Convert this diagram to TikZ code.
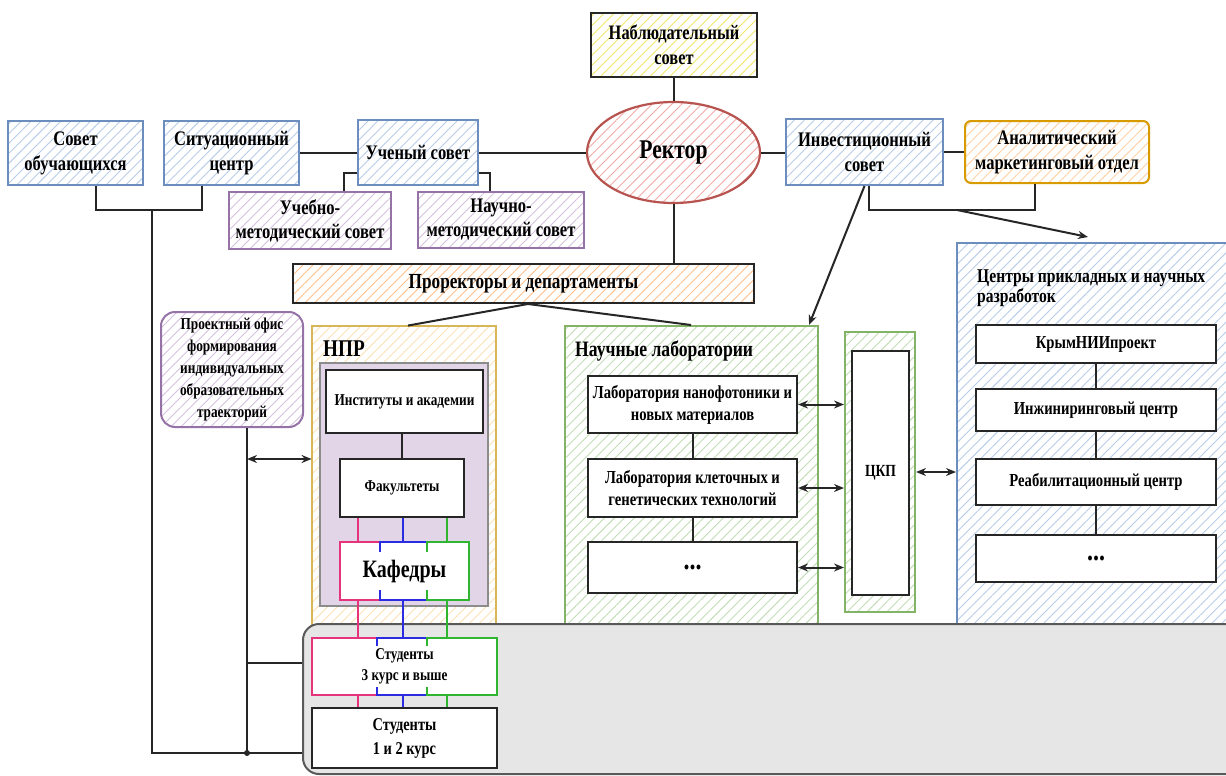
\documentclass[tikz,border=0pt]{standalone}
\usepackage{fontspec}
\setmainfont{Liberation Serif}[FakeStretch=0.8]
\usetikzlibrary{shapes.geometric,patterns.meta,arrows.meta,calc}
\definecolor{cblue}{HTML}{6C8EBF}
\definecolor{hblue}{HTML}{B9CDE9}
\definecolor{cpurp}{HTML}{9673A6}
\definecolor{hpurp}{HTML}{D5C2DF}
\definecolor{cred}{HTML}{B85450}
\definecolor{hred}{HTML}{F2AAA7}
\definecolor{hyell}{HTML}{F2E76A}
\definecolor{corng}{HTML}{D79B00}
\definecolor{horng}{HTML}{FFD2A8}
\definecolor{horng2}{HTML}{FFC08A}
\definecolor{cgreen}{HTML}{82B366}
\definecolor{hgreen}{HTML}{C4DDB8}
\definecolor{cnpr}{HTML}{D6B656}
\definecolor{hnpr}{HTML}{FDE2B8}
\definecolor{lav}{HTML}{E1D5E7}
\definecolor{greyfill}{HTML}{E6E6E6}
\definecolor{cpink}{HTML}{E6347C}
\definecolor{cbl}{HTML}{2B2BE0}
\definecolor{cgr}{HTML}{2FB52F}
\tikzset{
  box/.style={draw, line width=2pt, align=center, inner sep=1pt, font=\bfseries\fontsize{20.7}{25}\selectfont},
  hatch/.style={preaction={fill=white}, pattern={Lines[angle=45,distance=7pt,line width=0.9pt]}, pattern color=#1},
  bluebox/.style={box, draw=cblue, hatch=hblue},
  purpbox/.style={box, draw=cpurp, hatch=hpurp, font=\bfseries\fontsize{20.7}{24}\selectfont},
  wbox/.style={draw=black!85, line width=2pt, fill=white, align=center, inner sep=1pt},
  conn/.style={line width=2pt, draw=black!85},
  arr/.style={conn, -{Stealth[length=10pt,width=8pt]}},
  darr/.style={conn, {Stealth[length=10pt,width=8pt]}-{Stealth[length=10pt,width=8pt]}},
  colln/.style={line width=2pt, draw=#1},
}
\begin{document}
\begin{tikzpicture}[x=1pt,y=-1pt]
\useasboundingbox (0,0) rectangle (1226,776);
% big container boxes (bottoms hidden by grey area)
\node[draw=cnpr, line width=2pt, hatch=hnpr, minimum width=184pt, minimum height=324pt, inner sep=0pt] (npr) at (404,488) {};
\node[draw=cgreen, line width=2pt, hatch=hgreen, minimum width=253pt, minimum height=324pt, inner sep=0pt] (nl) at (691.5,488) {};
\node[draw=cblue, line width=2pt, hatch=hblue, minimum width=283pt, minimum height=407pt, inner sep=0pt] (cen) at (1098.5,446.5) {};
% grey area
\node[draw=black!65, line width=2pt, fill=greyfill, rounded corners=16pt, minimum width=957pt, minimum height=150pt, inner sep=0pt] (grey) at (781.5,699) {};
% top row
\node[box, draw=black!85, hatch=hyell, minimum width=166pt, minimum height=64pt, font=\bfseries\fontsize{20.5}{25}\selectfont] (nab) at (674,45) {Наблюдательный\\совет};
\node[ellipse, draw=cred, line width=2.2pt, hatch=hred, minimum width=173pt, minimum height=101pt, inner sep=0pt, font=\bfseries\fontsize{27}{32}\selectfont] (rek) at (673.5,152.5) {Ректор};
\node[bluebox, minimum width=157pt, minimum height=66pt] (inv) at (864.5,152) {Инвестиционный\\совет};
\node[box, draw=corng, hatch=horng, rounded corners=6pt, minimum width=184pt, minimum height=62pt] (anal) at (1057,152) {Аналитический\\маркетинговый отдел};
\node[bluebox, minimum width=135pt, minimum height=64pt] (sov) at (75.5,153) {Совет\\обучающихся};
\node[bluebox, minimum width=135pt, minimum height=64pt] (sit) at (231.5,153) {Ситуационный\\центр};
\node[bluebox, minimum width=120pt, minimum height=65pt] (uch) at (418,152.5) {Ученый совет};
\node[purpbox, minimum width=162pt, minimum height=57pt] (ucm) at (310,220.5) {Учебно-\\методический совет};
\node[purpbox, minimum width=166pt, minimum height=56pt] (ncm) at (501,220) {Научно-\\методический совет};
\node[box, draw=black!85, hatch=horng2, minimum width=461pt, minimum height=39pt, font=\bfseries\fontsize{21.5}{25}\selectfont] (pro) at (523.5,283.5) {Проректоры и департаменты};
\node[box, draw=cpurp, hatch=hpurp, rounded corners=14pt, minimum width=142pt, minimum height=115pt, font=\bfseries\fontsize{16.6}{22}\selectfont] (proj) at (232,369.5) {Проектный офис\\формирования\\индивидуальных\\образовательных\\траекторий};
% NPR
\node[anchor=base west, inner sep=0pt, font=\bfseries\fontsize{24}{28}\selectfont] (nprt) at (323,356) {НПР};
\node[draw=black!45, line width=2pt, fill=lav, minimum width=168pt, minimum height=243pt, inner sep=0pt] (inner) at (404,484.5) {};
\node[wbox, minimum width=157pt, minimum height=63pt, font=\bfseries\fontsize{16.6}{20}\selectfont] (inst) at (404.5,401.5) {Институты и академии};
\node[wbox, minimum width=124pt, minimum height=58pt, font=\bfseries\fontsize{16.5}{18}\selectfont] (fak) at (402,488) {Факультеты};
\node[fill=white, minimum width=129pt, minimum height=58pt, inner sep=0pt, font=\bfseries\fontsize{25}{30}\selectfont] (kaf) at (404.5,571) {Кафедры};
\node[fill=white, minimum width=185pt, minimum height=57pt, inner sep=0pt, align=center, font=\bfseries\fontsize{16.5}{21}\selectfont] (st3) at (404.5,666.5) {Студенты\\3 курс и выше};
\node[wbox, minimum width=185pt, minimum height=60pt, font=\bfseries\fontsize{18}{24}\selectfont] (st1) at (404.5,738) {Студенты\\1 и 2 курс};
% labs
\node[anchor=base west, inner sep=0pt, font=\bfseries\fontsize{22}{24}\selectfont] (nlt) at (575,356) {Научные лаборатории};
\node[wbox, minimum width=209pt, minimum height=57pt, font=\bfseries\fontsize{18.3}{22}\selectfont] (lab1) at (692.5,404.5) {Лаборатория нанофотоники и\\новых материалов};
\node[wbox, minimum width=209pt, minimum height=58pt, font=\bfseries\fontsize{18.3}{22}\selectfont] (lab2) at (692.5,488) {Лаборатория клеточных и\\генетических технологий};
\node[wbox, minimum width=209pt, minimum height=51pt, font=\bfseries\fontsize{30}{30}\selectfont] (lab3) at (692.5,567.5) {...};
\node[draw=cgreen, line width=2pt, hatch=hgreen, minimum width=70pt, minimum height=280pt, inner sep=0pt] (ckpo) at (880,472) {};
\node[wbox, minimum width=57pt, minimum height=244pt, font=\bfseries\fontsize{17}{18}\selectfont] (ckp) at (880.5,473) {ЦКП};
% centres
\node[anchor=base west, inner sep=0pt, align=left, font=\bfseries\fontsize{19.5}{20}\selectfont] (cent) at (977,302) {Центры прикладных и научных\\разработок};
\node[wbox, minimum width=240pt, minimum height=38pt, font=\bfseries\fontsize{18.3}{20}\selectfont] (krym) at (1096,344) {КрымНИИпроект};
\node[wbox, minimum width=240pt, minimum height=42pt, font=\bfseries\fontsize{18.3}{20}\selectfont] (inz) at (1096,410) {Инжиниринговый центр};
\node[wbox, minimum width=240pt, minimum height=46pt, font=\bfseries\fontsize{18.3}{20}\selectfont] (reab) at (1096,482) {Реабилитационный центр};
\node[wbox, minimum width=240pt, minimum height=47pt, font=\bfseries\fontsize{30}{30}\selectfont] (cdot) at (1096,558.5) {...};
% helper coordinates
\coordinate (j1) at (152,210);
\coordinate (jb1) at (152,753);
\coordinate (jb2) at (247,753);
\coordinate (jm) at (247,663);
\coordinate (ja) at (247,459);
\coordinate (j3) at (957,210);
\coordinate (cp) at (358,0);
\coordinate (cb) at (403,0);
\coordinate (cg) at (447,0);
% connectors
\draw[conn] (nab.south) -- (nab.south |- rek.north);
\draw[conn] (uch.east) -- (uch.east -| rek.west);
\draw[conn] (rek.east) -- (rek.east -| inv.west);
\draw[conn] (inv.east) -- (inv.east -| anal.west);
\draw[conn] (sit.east) -- (sit.east -| uch.west);
\draw[conn] ([yshift=13pt]uch.south west) -| ([xshift=116pt]ucm.north west);
\draw[conn] ([yshift=13pt]uch.south east) -| ([xshift=73pt]ncm.north west);
\draw[conn] ([xshift=20.5pt]sov.south) |- (j1) -| ([xshift=-29.5pt]sit.south);
\draw[conn] (j1) -- (jb1) -- (jb1 -| grey.west);
\draw[conn] ([xshift=15pt]proj.south) -- (jb2);
\fill[black!85] (jb2) circle (3pt);
\draw[conn] (jm) -- (jm -| grey.west);
\draw[darr] (ja) -- (ja -| npr.west);
\draw[conn] (rek.south) -- (rek.south |- pro.north);
\draw[conn] ([xshift=4.5pt]pro.south) -- ([xshift=4pt]npr.north);
\draw[conn] ([xshift=4.5pt]pro.south) -- ([xshift=-0.5pt]nl.north);
\draw[arr] (inv.south) -- ([xshift=-10pt]nl.north east);
\draw[conn] ([xshift=4.5pt]inv.south) |- (j3) -| ([xshift=-22pt]anal.south);
\draw[arr] (j3) -- ([xshift=-10.5pt,yshift=5pt]cen.north);
\draw[conn] (fak.north |- inst.south) -- (fak.north);
\draw[conn] (lab1.south) -- (lab2.north);
\draw[conn] (lab2.south) -- (lab3.north);
\draw[darr] (lab1.east) -- (lab1.east -| ckpo.west);
\draw[darr] (lab2.east) -- (lab2.east -| ckpo.west);
\draw[darr] (lab3.east) -- (lab3.east -| ckpo.west);
\draw[darr] (ckpo.east) -- (ckpo.east -| cen.west);
\draw[conn] (krym.south) -- (inz.north);
\draw[conn] (inz.south) -- (reab.north);
\draw[conn] (reab.south) -- (cdot.north);
% coloured links
\draw[colln=cpink] (fak.south -| cp) -- (kaf.north -| cp);
\draw[colln=cbl] (fak.south -| cb) -- (kaf.north -| cb);
\draw[colln=cgr] (fak.south -| cg) -- (kaf.north -| cg);
\draw[colln=cpink] (kaf.south -| cp) -- (st3.north -| cp);
\draw[colln=cbl] (kaf.south -| cb) -- (st3.north -| cb);
\draw[colln=cgr] (kaf.south -| cg) -- (st3.north -| cg);
\draw[colln=cpink] (st3.south -| cp) -- (st1.north -| cp);
\draw[colln=cbl] (st3.south -| cb) -- (st1.north -| cb);
\draw[colln=cgr] (st3.south -| cg) -- (st1.north -| cg);
% tri-coloured borders: Кафедры
\draw[colln=cpink] ([xshift=40pt]kaf.north west) -- (kaf.north west) -- (kaf.south west) -- ([xshift=40pt]kaf.south west);
\draw[colln=cbl] ([xshift=40pt,yshift=-10pt]kaf.north west) -- ([xshift=40pt]kaf.north west) -- ([xshift=87pt]kaf.north west);
\draw[colln=cbl] ([xshift=40pt,yshift=10pt]kaf.south west) -- ([xshift=40pt]kaf.south west) -- ([xshift=87pt]kaf.south west);
\draw[colln=cgr] ([xshift=87pt,yshift=-10pt]kaf.north west) -- ([xshift=87pt]kaf.north west) -- (kaf.north east) -- (kaf.south east) -- ([xshift=87pt]kaf.south west) -- ([xshift=87pt,yshift=10pt]kaf.south west);
% tri-coloured borders: Студенты 3 курс
\draw[colln=cpink] ([xshift=65pt]st3.north west) -- (st3.north west) -- (st3.south west) -- ([xshift=65pt]st3.south west);
\draw[colln=cbl] ([xshift=65pt,yshift=-8pt]st3.north west) -- ([xshift=65pt]st3.north west) -- ([xshift=115pt]st3.north west);
\draw[colln=cbl] ([xshift=65pt,yshift=8pt]st3.south west) -- ([xshift=65pt]st3.south west) -- ([xshift=115pt]st3.south west);
\draw[colln=cgr] ([xshift=115pt,yshift=-8pt]st3.north west) -- ([xshift=115pt]st3.north west) -- (st3.north east) -- (st3.south east) -- ([xshift=115pt]st3.south west) -- ([xshift=115pt,yshift=8pt]st3.south west);
\end{tikzpicture}
\end{document}
